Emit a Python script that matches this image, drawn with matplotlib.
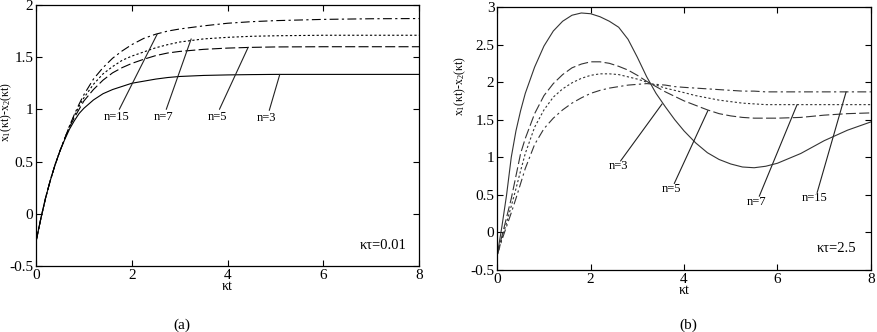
import matplotlib
matplotlib.use('Agg')
import matplotlib.pyplot as plt

plt.rcParams['font.family'] = ['Liberation Serif', 'DejaVu Serif']
plt.rcParams['mathtext.fontset'] = 'custom'
plt.rcParams['mathtext.rm'] = 'Liberation Serif'
plt.rcParams['mathtext.it'] = 'Liberation Serif:italic'

# ---- panel (a): kappa*tau = 0.01 ----
t_a = [0, 0.1, 0.2, 0.3, 0.4, 0.5, 0.6, 0.7, 0.8, 0.9, 1.0, 1.2, 1.4, 1.6, 1.8, 2.0,
       2.25, 2.5, 2.75, 3.0, 3.5, 4.0, 4.5, 5, 6, 7, 8]
a_n3 = [-0.27, -0.05, 0.15, 0.32, 0.47, 0.60, 0.71, 0.81, 0.89, 0.96, 1.01, 1.09, 1.15, 1.19,
        1.22, 1.25, 1.27, 1.29, 1.305, 1.315, 1.325, 1.33, 1.333, 1.335, 1.335, 1.335, 1.335]
a_n5 = [-0.27, -0.05, 0.15, 0.32, 0.47, 0.60, 0.72, 0.83, 0.92, 1.00, 1.08, 1.19, 1.28, 1.35,
        1.40, 1.44, 1.48, 1.515, 1.54, 1.555, 1.575, 1.587, 1.594, 1.598, 1.60, 1.60, 1.60]
a_n7 = [-0.27, -0.05, 0.15, 0.32, 0.47, 0.60, 0.72, 0.84, 0.94, 1.03, 1.11, 1.24, 1.34, 1.41,
        1.47, 1.51, 1.55, 1.59, 1.62, 1.645, 1.675, 1.69, 1.70, 1.705, 1.71, 1.71, 1.71]
a_n15 = [-0.27, -0.05, 0.15, 0.32, 0.47, 0.60, 0.72, 0.84, 0.95, 1.05, 1.14, 1.29, 1.40, 1.49,
         1.56, 1.62, 1.68, 1.72, 1.75, 1.77, 1.80, 1.825, 1.84, 1.85, 1.862, 1.868, 1.87]

# ---- panel (b): kappa*tau = 2.5 ----
t_b = [0, 0.1, 0.2, 0.3, 0.4, 0.5, 0.6, 0.8, 1.0, 1.2, 1.4, 1.6, 1.8, 2.0, 2.2, 2.4, 2.6,
       2.8, 3.0, 3.2, 3.4, 3.6, 3.8, 4.0, 4.25, 4.5, 4.75, 5.0, 5.25, 5.5, 5.75, 6.0, 6.5,
       7.0, 7.5, 8.0]
b_n3 = [-0.3, 0.08, 0.5, 1.0, 1.35, 1.62, 1.85, 2.2, 2.48, 2.68, 2.81, 2.89, 2.92, 2.91, 2.87,
        2.81, 2.73, 2.57, 2.33, 2.07, 1.85, 1.67, 1.50, 1.35, 1.19, 1.06, 0.97, 0.91, 0.87,
        0.86, 0.88, 0.92, 1.05, 1.22, 1.36, 1.47]
b_n5 = [-0.3, -0.05, 0.2, 0.45, 0.75, 1.05, 1.25, 1.58, 1.82, 1.98, 2.10, 2.19, 2.24, 2.27,
        2.27, 2.25, 2.21, 2.16, 2.09, 2.01, 1.94, 1.87, 1.81, 1.75, 1.69, 1.63, 1.58, 1.55,
        1.53, 1.52, 1.52, 1.52, 1.53, 1.56, 1.58, 1.59]
b_n7 = [-0.3, -0.08, 0.13, 0.35, 0.58, 0.82, 1.05, 1.40, 1.63, 1.80, 1.91, 1.99, 2.05, 2.09,
        2.11, 2.11, 2.10, 2.07, 2.04, 2.00, 1.96, 1.92, 1.89, 1.86, 1.82, 1.79, 1.76, 1.74,
        1.72, 1.71, 1.70, 1.70, 1.70, 1.70, 1.70, 1.70]
b_n15 = [-0.3, -0.1, 0.08, 0.26, 0.45, 0.65, 0.85, 1.17, 1.38, 1.52, 1.63, 1.72, 1.79, 1.85,
         1.89, 1.92, 1.94, 1.96, 1.97, 1.98, 1.97, 1.96, 1.94, 1.93, 1.92, 1.91, 1.90, 1.89,
         1.88, 1.88, 1.87, 1.87, 1.87, 1.87, 1.87, 1.87]

labels = ['n=3', 'n=5', 'n=7', 'n=15']
# pointer lines: (point on curve) -> (text position)
ptr_a = [(5.09, 1.335), (4.43, 1.595), (3.24, 1.675), (2.53, 1.72)]
txt_a = [(4.82, 0.92), (3.78, 0.93), (2.67, 0.93), (1.69, 0.93)]
ptr_b = [(3.53, 1.71), (4.51, 1.62), (6.42, 1.70), (7.47, 1.87)]
txt_b = [(2.59, 0.88), (3.74, 0.58), (5.56, 0.41), (6.80, 0.46)]

styles = ['-', (0, (9, 3)), (0, (2, 2)), (0, (8, 3, 2, 3))]

fig = plt.figure(figsize=(8.77, 3.32), dpi=100)
ax1 = fig.add_axes([0.041, 0.199, 0.437, 0.786])
ax2 = fig.add_axes([0.567, 0.187, 0.426, 0.792])


def setup(ax, ylim, yticks, ytl, ylab_pos):
    ax.set_xlim(0, 8)
    ax.set_ylim(*ylim)
    ax.set_xticks([0, 2, 4, 6, 8])
    ax.set_xticklabels(['0', '2', '4', '6', '8'])
    ax.set_yticks(yticks)
    ax.set_yticklabels(ytl)
    ax.tick_params(direction='in', length=4, width=0.8, top=True, right=True,
                   labelsize=11, pad=2)
    for s in ax.spines.values():
        s.set_linewidth(0.9)
    ax.set_xlabel('κt', fontsize=10, labelpad=-1)
    ax.set_ylabel(r'x$_1$(κt)-x$_2$(κt)', fontsize=8.5)
    ax.yaxis.set_label_coords(*ylab_pos)


setup(ax1, (-0.5, 2), [-0.5, 0, 0.5, 1, 1.5, 2], ['-0.5', '0', '0.5', '1', '1.5', '2'],
      (-0.058, 0.59))
setup(ax2, (-0.5, 3), [-0.5, 0, 0.5, 1, 1.5, 2, 2.5, 3],
      ['-0.5', '0', '0.5', '1', '1.5', '2', '2.5', '3'], (-0.078, 0.70))

for ys, ls in zip([a_n3, a_n5, a_n7, a_n15], styles):
    ax1.plot(t_a, ys, color='black', lw=0.8, linestyle=ls)
for ys, ls in zip([b_n3, b_n5, b_n7, b_n15], styles):
    ax2.plot(t_b, ys, color='#333333', lw=0.8, linestyle=ls)

for ax, ptr, txt in [(ax1, ptr_a, txt_a), (ax2, ptr_b, txt_b)]:
    for lab, p, q in zip(labels, ptr, txt):
        ax.annotate('', xy=p, xytext=(q[0] + 0.05, q[1] + 0.07),
                    arrowprops=dict(arrowstyle='-', color='#222222', lw=0.8,
                                    shrinkA=0, shrinkB=0))
        ax.text(q[0], q[1], lab, fontsize=9, ha='center', va='center')

ax1.text(7.25, -0.3, 'κτ=0.01', fontsize=10.5, ha='center', va='center')
ax2.text(7.27, -0.22, 'κτ=2.5', fontsize=10.5, ha='center', va='center')

fig.text(182 / 877, 1 - 325 / 332, '(a)', fontsize=11, ha='center', va='center')
fig.text(688 / 877, 1 - 325 / 332, '(b)', fontsize=11, ha='center', va='center')

fig.savefig('out.png', dpi=100)
